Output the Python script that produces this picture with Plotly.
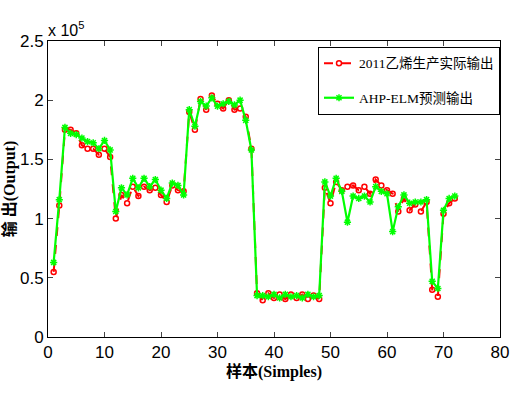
import plotly.graph_objects as go

samples = list(range(1, 73))
actual = [0.55, 1.11, 1.75, 1.75, 1.72, 1.62, 1.59, 1.59, 1.54, 1.59,
          1.52, 1.00, 1.20, 1.13, 1.27, 1.19, 1.27, 1.24, 1.26, 1.20,
          1.14, 1.28, 1.24, 1.23, 1.90, 1.75, 2.01, 1.92, 2.04, 1.97,
          1.93, 2.00, 1.92, 1.93, 1.86, 1.59, 0.37, 0.31, 0.37, 0.33,
          0.36, 0.32, 0.36, 0.33, 0.36, 0.32, 0.35, 0.32, 1.26, 1.13,
          1.31, 1.24, 1.27, 1.28, 1.24, 1.27, 1.21, 1.33, 1.28, 1.24,
          1.21, 1.06, 1.17, 1.07, 1.12, 1.06, 1.14, 0.40, 0.34, 1.04,
          1.13, 1.17]
predicted = [0.63, 1.16, 1.77, 1.72, 1.71, 1.68, 1.65, 1.64, 1.59, 1.66,
             1.58, 1.06, 1.26, 1.20, 1.34, 1.26, 1.34, 1.27, 1.33, 1.24,
             1.17, 1.30, 1.28, 1.20, 1.92, 1.78, 1.99, 1.95, 2.02, 1.95,
             1.97, 1.99, 1.96, 2.00, 1.83, 1.58, 0.35, 0.35, 0.34, 0.36,
             0.33, 0.36, 0.34, 0.35, 0.33, 0.36, 0.34, 0.35, 1.31, 1.19,
             1.34, 1.23, 0.97, 1.19, 1.17, 1.19, 1.14, 1.27, 1.23, 1.21,
             0.89, 1.10, 1.20, 1.13, 1.14, 1.14, 1.16, 0.47, 0.41, 1.07,
             1.17, 1.19]
scale = 1e5
actual_v = [v * scale for v in actual]
pred_v = [v * scale for v in predicted]

x_ticks = [0, 10, 20, 30, 40, 50, 60, 70, 80]
y_tick_vals = [0, 0.5e5, 1e5, 1.5e5, 2e5, 2.5e5]
y_tick_text = ["0", "0.5", "1", "1.5", "2", "2.5"]

serif_cjk = "Liberation Serif, Times New Roman, Noto Sans CJK SC"

fig = go.Figure()
fig.add_trace(go.Scatter(
    x=samples, y=actual_v, mode="lines+markers",
    name="2011乙烯生产实际输出", legendgroup="a",
    line=dict(color="#ff0000", width=2, dash="dash"),
    marker=dict(symbol="circle-open", size=5, color="#ff0000", line=dict(width=1.5)),
))
fig.add_trace(go.Scatter(
    x=samples, y=pred_v, mode="lines+markers",
    name="AHP-ELM预测输出", legendgroup="b",
    line=dict(color="#00ff00", width=2.2),
    marker=dict(symbol="asterisk-open", size=6, color="#00ff00", line=dict(width=1.5, color="#00ff00")),
))

axis_font = dict(family="Liberation Sans, Arial", size=17, color="black")
fig.update_layout(
    width=510, height=400,
    margin=dict(l=48, r=10, t=41, b=63, autoexpand=False),
    paper_bgcolor="white", plot_bgcolor="white",
    showlegend=True,
    legend=dict(
        x=1.0, y=0.98, xanchor="right", yanchor="top",
        bgcolor="white", bordercolor="black", borderwidth=1,
        font=dict(family=serif_cjk, size=13.5, color="black"),
        tracegroupgap=14, itemwidth=30,
    ),
    xaxis=dict(
        range=[0, 80], tickvals=x_ticks, ticks="inside", ticklen=5,
        showline=True, linecolor="black", linewidth=1, mirror="ticks",
        showgrid=False, zeroline=False, tickfont=axis_font, automargin=False,
        ticklabeloverflow="allow",
        title=dict(text="<b>样本(Simples)</b>", font=dict(family=serif_cjk, size=16, color="black"), standoff=4),
    ),
    yaxis=dict(
        range=[0, 2.5e5], tickvals=y_tick_vals, ticktext=y_tick_text,
        ticks="inside", ticklen=5, automargin=False,
        ticklabeloverflow="allow",
        showline=True, linecolor="black", linewidth=1, mirror="ticks",
        showgrid=False, zeroline=False, tickfont=axis_font,
        title=dict(text="<b>输 出(Output)</b>", font=dict(family=serif_cjk, size=16, color="black"), standoff=8),
    ),
    annotations=[dict(
        text="x 10<sup>5</sup>", xref="paper", yref="paper",
        x=-0.005, y=1.0, xanchor="left", yanchor="bottom", showarrow=False,
        font=dict(family="Liberation Sans, Arial", size=16, color="black"),
    )],
)

fig.write_html("out.html")
